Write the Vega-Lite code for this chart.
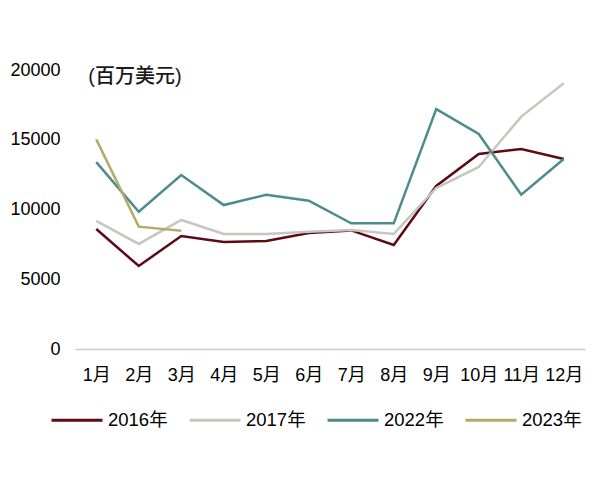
{
  "$schema": "https://vega.github.io/schema/vega-lite/v6.json",
  "width": 510,
  "height": 279,
  "autosize": {"type": "none"},
  "padding": {"left": 75, "top": 70, "right": 15, "bottom": 131},
  "background": "white",
  "config": {"view": {"stroke": null}, "font": "Liberation Sans, Noto Sans CJK SC"},
  "layer": [
    {
      "data": {
        "values": [
          {"month": "1月", "year": "2016年", "value": 8600},
          {"month": "2月", "year": "2016年", "value": 5950},
          {"month": "3月", "year": "2016年", "value": 8100},
          {"month": "4月", "year": "2016年", "value": 7670},
          {"month": "5月", "year": "2016年", "value": 7740},
          {"month": "6月", "year": "2016年", "value": 8320},
          {"month": "7月", "year": "2016年", "value": 8500},
          {"month": "8月", "year": "2016年", "value": 7460},
          {"month": "9月", "year": "2016年", "value": 11690},
          {"month": "10月", "year": "2016年", "value": 13980},
          {"month": "11月", "year": "2016年", "value": 14340},
          {"month": "12月", "year": "2016年", "value": 13620},
          {"month": "1月", "year": "2017年", "value": 9180},
          {"month": "2月", "year": "2017年", "value": 7530},
          {"month": "3月", "year": "2017年", "value": 9250},
          {"month": "4月", "year": "2017年", "value": 8250},
          {"month": "5月", "year": "2017年", "value": 8250},
          {"month": "6月", "year": "2017年", "value": 8400},
          {"month": "7月", "year": "2017年", "value": 8530},
          {"month": "8月", "year": "2017年", "value": 8250},
          {"month": "9月", "year": "2017年", "value": 11540},
          {"month": "10月", "year": "2017年", "value": 13050},
          {"month": "11月", "year": "2017年", "value": 16660},
          {"month": "12月", "year": "2017年", "value": 19050},
          {"month": "1月", "year": "2022年", "value": 13400},
          {"month": "2月", "year": "2022年", "value": 9840},
          {"month": "3月", "year": "2022年", "value": 12470},
          {"month": "4月", "year": "2022年", "value": 10320},
          {"month": "5月", "year": "2022年", "value": 11060},
          {"month": "6月", "year": "2022年", "value": 10630},
          {"month": "7月", "year": "2022年", "value": 9010},
          {"month": "8月", "year": "2022年", "value": 9010},
          {"month": "9月", "year": "2022年", "value": 17200},
          {"month": "10月", "year": "2022年", "value": 15410},
          {"month": "11月", "year": "2022年", "value": 11060},
          {"month": "12月", "year": "2022年", "value": 13620},
          {"month": "1月", "year": "2023年", "value": 15030},
          {"month": "2月", "year": "2023年", "value": 8770},
          {"month": "3月", "year": "2023年", "value": 8480}
        ]
      },
      "mark": {"type": "line", "strokeWidth": 2.5},
      "encoding": {
        "x": {
          "field": "month",
          "type": "ordinal",
          "scale": {"type": "point", "padding": 0.5, "domain": ["1月", "2月", "3月", "4月", "5月", "6月", "7月", "8月", "9月", "10月", "11月", "12月"]},
          "axis": {"title": null, "labelAngle": 0, "ticks": false, "tickSize": 0, "domainColor": "#cccccc", "domainWidth": 1.5, "labelFontSize": 18, "labelPadding": 17, "labelColor": "#000000"}
        },
        "y": {
          "field": "value",
          "type": "quantitative",
          "scale": {"domain": [0, 20000]},
          "axis": {"title": null, "values": [0, 5000, 10000, 15000, 20000], "grid": false, "domain": false, "ticks": false, "tickSize": 0, "labelFontSize": 18, "labelPadding": 15, "format": "d", "labelColor": "#000000"}
        },
        "color": {
          "field": "year",
          "type": "nominal",
          "scale": {"domain": ["2016年", "2017年", "2022年", "2023年"], "range": ["#5c0a14", "#c6c6c2", "#4e8b8b", "#b3ab6a"]},
          "legend": {
            "title": null,
            "orient": "none",
            "legendX": -25,
            "legendY": 323,
            "direction": "horizontal",
            "symbolType": "stroke",
            "symbolSize": 2600,
            "symbolStrokeWidth": 3,
            "labelFontSize": 18.5,
            "labelColor": "#000000",
            "labelLimit": 0,
            "labelOffset": 4,
            "columnPadding": 15
          }
        }
      }
    },
    {
      "data": {"values": [{"month": "1月", "value": 20000, "label": "(百万美元)"}]},
      "mark": {"type": "text", "align": "left", "baseline": "middle", "dx": -8, "dy": 7, "fontSize": 20, "letterSpacing": 1.5, "fontWeight": 500, "fill": "#1a1a1a"},
      "encoding": {
        "x": {"field": "month", "type": "ordinal"},
        "y": {"field": "value", "type": "quantitative"},
        "text": {"field": "label"}
      }
    }
  ]
}
